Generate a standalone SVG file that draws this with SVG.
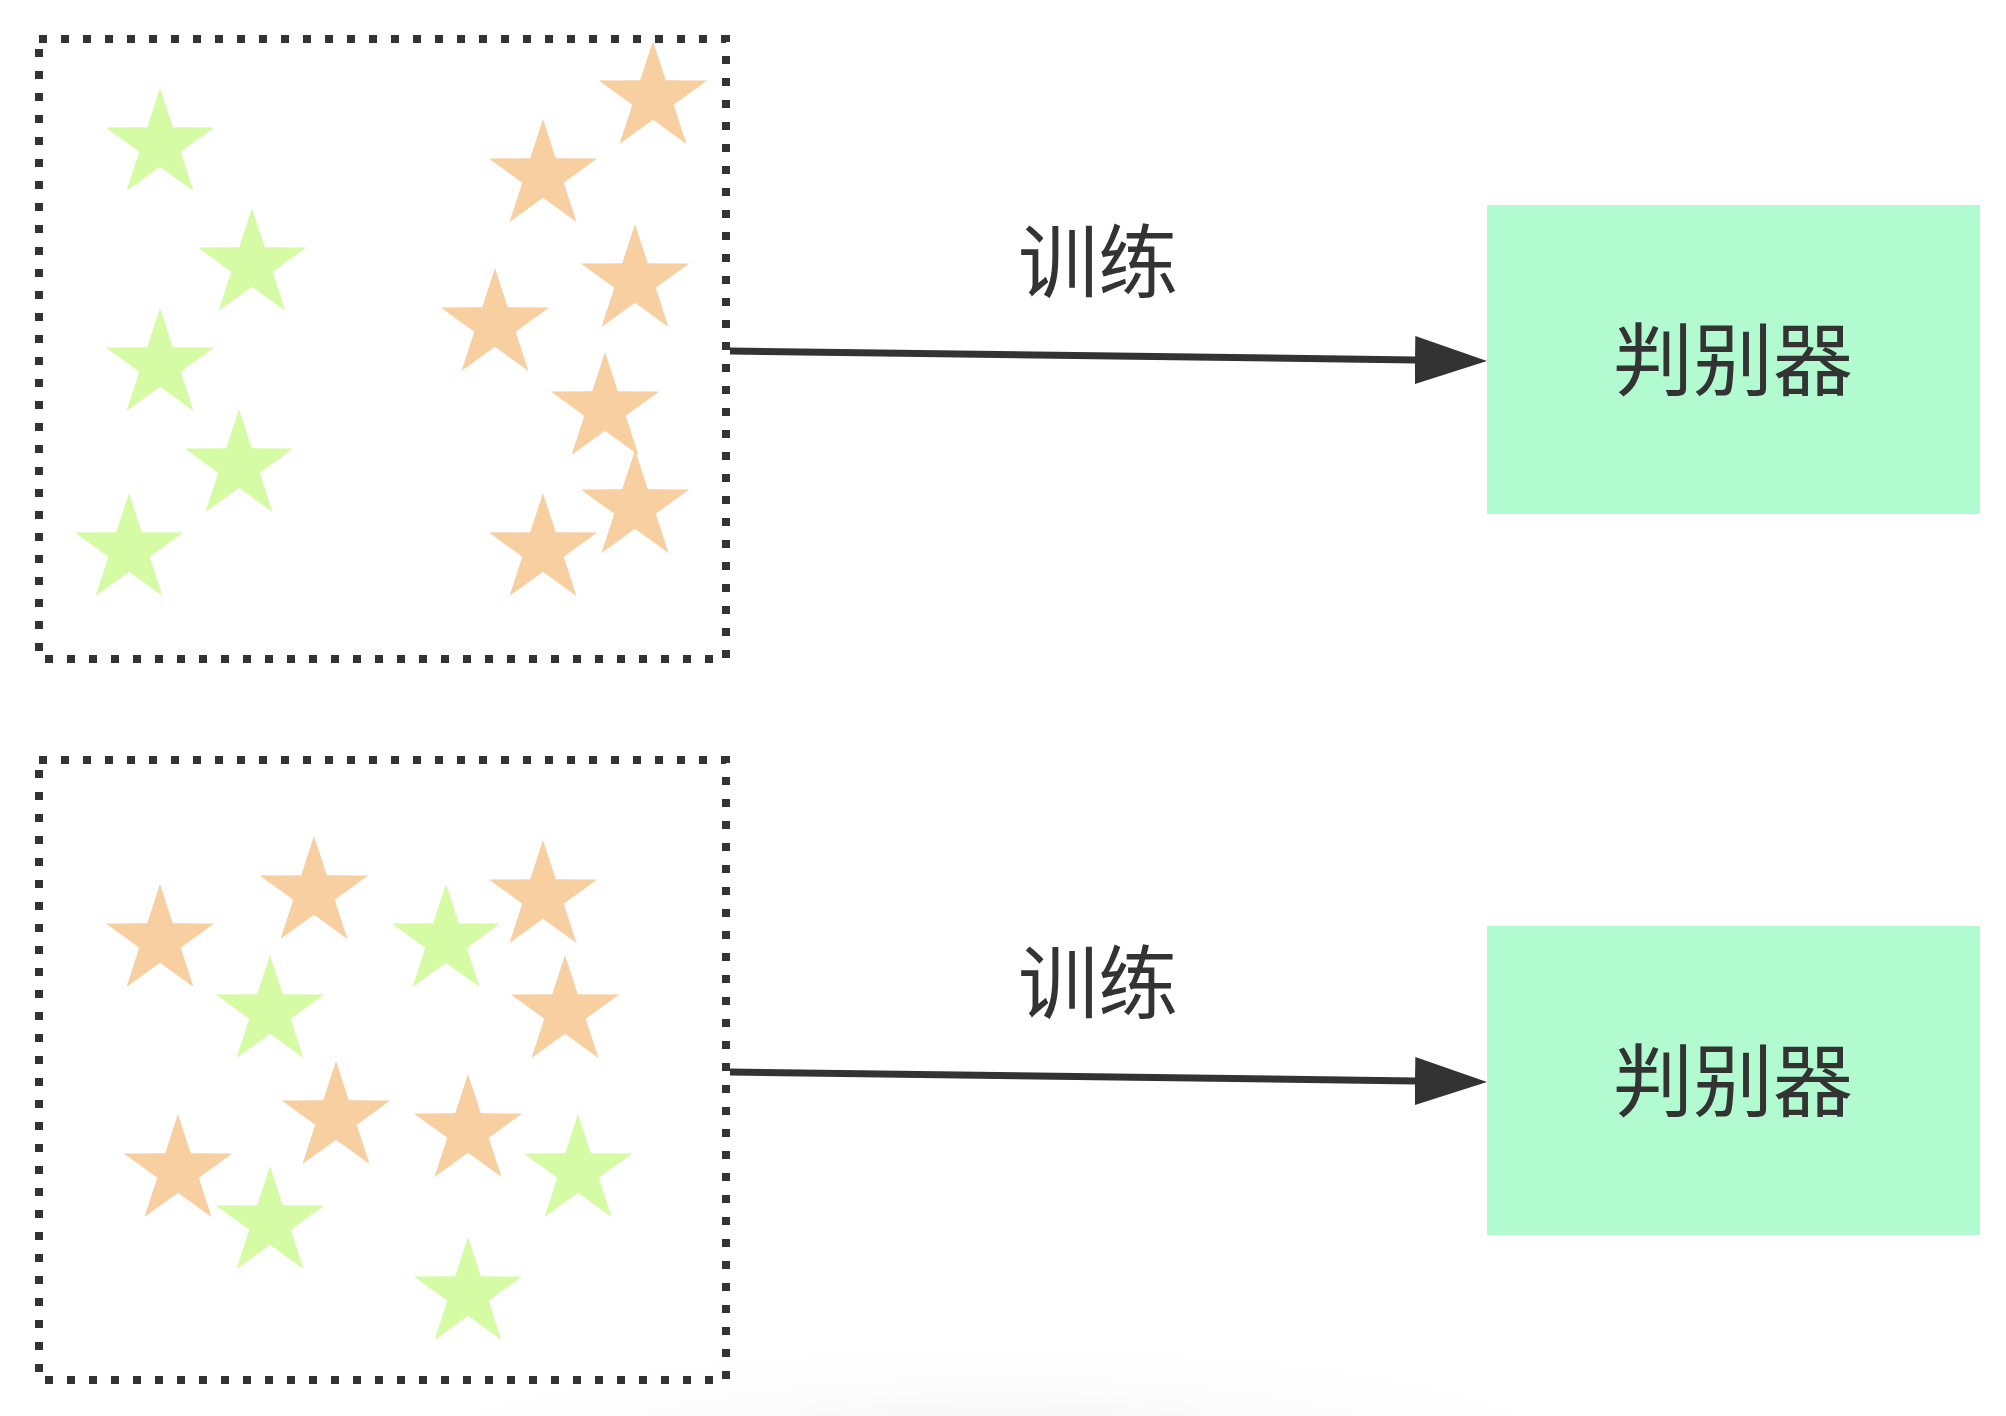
<svg xmlns="http://www.w3.org/2000/svg" xmlns:xlink="http://www.w3.org/1999/xlink" width="2006" height="1416" viewBox="0 0 2006 1416">
  <style>
    .frame { fill: none; stroke: #333333; stroke-width: 8; stroke-dasharray: 8 14; }
    .g { fill: #d5fca5; }
    .o { fill: #f7cfa1; }
    .disc { fill: #b2fbd1; }
    .edge { fill: none; stroke: #333333; stroke-width: 7; }
    .lbl { font-family: "Noto Sans CJK SC", "Noto Sans", sans-serif; font-size: 80px; fill: #333333; text-anchor: middle; dominant-baseline: central; }
  </style>
  <defs>
    <path id="star" d="M0,-57 L12.81,-17.64 L54.21,-17.61 L20.73,6.74 L33.5,46.11 L0,21.8 L-33.5,46.11 L-20.73,6.74 L-54.21,-17.61 L-12.81,-17.64 Z"/>
    <marker id="arrow" markerUnits="userSpaceOnUse" markerWidth="74" markerHeight="50" refX="1" refY="24" orient="auto">
      <path d="M0,0 L72,24 L0,48 Z" fill="#333333"/>
    </marker>
    <radialGradient id="shade" cx="0.5" cy="0.5" r="0.5">
      <stop offset="0" stop-color="#ececec" stop-opacity="0.9"/>
      <stop offset="1" stop-color="#ffffff" stop-opacity="0"/>
    </radialGradient>
  </defs>
  <rect x="0" y="0" width="2006" height="1416" fill="#ffffff"/>
  <ellipse cx="1000" cy="1460" rx="680" ry="130" fill="url(#shade)"/>

  <g id="samples-1">
    <rect class="frame" x="39" y="39" width="687" height="620"/>
    <use href="#star" class="g" x="160" y="145"/>
    <use href="#star" class="g" x="252" y="265"/>
    <use href="#star" class="g" x="160" y="365"/>
    <use href="#star" class="g" x="239" y="466"/>
    <use href="#star" class="g" x="129" y="550"/>
    <use href="#star" class="o" x="653" y="98"/>
    <use href="#star" class="o" x="543" y="176"/>
    <use href="#star" class="o" x="635" y="281"/>
    <use href="#star" class="o" x="495" y="325"/>
    <use href="#star" class="o" x="605" y="409"/>
    <use href="#star" class="o" x="635" y="507"/>
    <use href="#star" class="o" x="543" y="550"/>
  </g>

  <g id="samples-2">
    <rect class="frame" x="39" y="760" width="687" height="620"/>
    <use href="#star" class="o" x="160" y="941"/>
    <use href="#star" class="o" x="314" y="893"/>
    <use href="#star" class="o" x="543" y="897"/>
    <use href="#star" class="o" x="565" y="1012"/>
    <use href="#star" class="o" x="336" y="1118"/>
    <use href="#star" class="o" x="468" y="1131"/>
    <use href="#star" class="o" x="178" y="1171"/>
    <use href="#star" class="g" x="446" y="941"/>
    <use href="#star" class="g" x="270" y="1012"/>
    <use href="#star" class="g" x="578" y="1171"/>
    <use href="#star" class="g" x="270" y="1223"/>
    <use href="#star" class="g" x="468" y="1294"/>
  </g>

  <g id="discriminator-1">
    <rect class="disc" x="1487" y="205" width="493" height="309"/>
    <text class="lbl" x="1733" y="354">判别器</text>
  </g>

  <g id="discriminator-2">
    <rect class="disc" x="1487" y="926" width="493" height="309"/>
    <text class="lbl" x="1733" y="1075">判别器</text>
  </g>

  <g id="connectors">
    <path class="edge" d="M730,351 L1416,360" marker-end="url(#arrow)"/>
    <text class="lbl" x="1098" y="256">训练</text>
    <path class="edge" d="M730,1072 L1416,1081" marker-end="url(#arrow)"/>
    <text class="lbl" x="1098" y="977">训练</text>
  </g>
</svg>
